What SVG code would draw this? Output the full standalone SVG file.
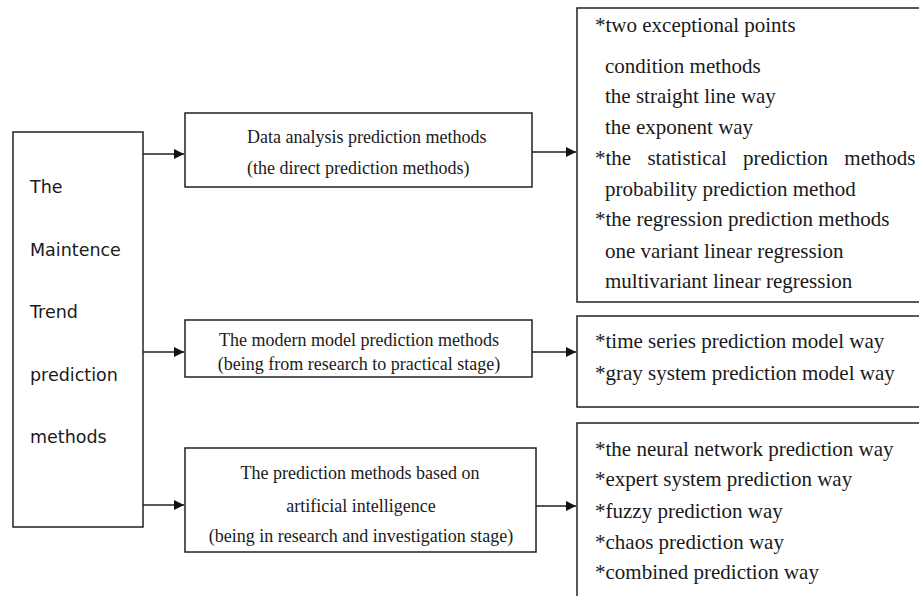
<svg xmlns="http://www.w3.org/2000/svg" width="919" height="596" viewBox="0 0 919 596">
  <style>
    .box { fill: #ffffff; stroke: #222222; stroke-width: 1.5; }
    .link { fill: none; stroke: #222222; stroke-width: 1.5; }
    .sans { font-family: "DejaVu Sans", Verdana, sans-serif; font-size: 17.5px; fill: #1a1a1a; }
    .serif { font-family: "Liberation Serif", "Times New Roman", serif; font-size: 18px; fill: #1a1a1a; }
    .list { font-family: "Liberation Serif", "Times New Roman", serif; font-size: 21px; fill: #1a1a1a; }
  </style>
  <defs>
    <marker id="arrow" viewBox="0 0 10 10" refX="10" refY="5" markerWidth="10" markerHeight="10" markerUnits="userSpaceOnUse" orient="auto">
      <path d="M0,0 L10,5 L0,10 z" fill="#111111"/>
    </marker>
  </defs>
  <rect width="919" height="596" fill="#ffffff"/>

  <!-- root node -->
  <g id="root">
    <rect class="box" x="13" y="132" width="130" height="395"/>
    <text class="sans" x="30" y="193">The</text>
    <text class="sans" x="30" y="256">Maintence</text>
    <text class="sans" x="30" y="318">Trend</text>
    <text class="sans" x="30" y="381">prediction</text>
    <text class="sans" x="30" y="443">methods</text>
  </g>

  <!-- category nodes -->
  <g id="data-analysis">
    <rect class="box" x="185" y="113" width="347" height="74"/>
    <text class="serif" x="247" y="143">Data analysis prediction methods</text>
    <text class="serif" x="247" y="174">(the direct prediction methods)</text>
  </g>
  <g id="modern-model">
    <rect class="box" x="185" y="320" width="347" height="57"/>
    <text class="serif" x="359" y="346" text-anchor="middle">The modern model prediction methods</text>
    <text class="serif" x="359" y="370" text-anchor="middle">(being from research to practical stage)</text>
  </g>
  <g id="artificial-intelligence">
    <rect class="box" x="185" y="448" width="351" height="104"/>
    <text class="serif" x="360" y="479" text-anchor="middle">The prediction methods based on</text>
    <text class="serif" x="361" y="512" text-anchor="middle">artificial intelligence</text>
    <text class="serif" x="361" y="542" text-anchor="middle">(being in research and investigation stage)</text>
  </g>

  <!-- detail lists -->
  <g id="data-analysis-list">
    <rect class="box" x="577" y="8" width="350" height="294"/>
    <text class="list" x="595" y="32">*two exceptional points</text>
    <text class="list" x="605" y="73">condition methods</text>
    <text class="list" x="605" y="103">the straight line way</text>
    <text class="list" x="605" y="134">the exponent way</text>
    <text class="list" x="595" y="165" word-spacing="11">*the statistical prediction methods</text>
    <text class="list" x="605" y="196">probability prediction method</text>
    <text class="list" x="595" y="226">*the regression prediction methods</text>
    <text class="list" x="605" y="258">one variant linear regression</text>
    <text class="list" x="605" y="288">multivariant linear regression</text>
  </g>
  <g id="modern-model-list">
    <rect class="box" x="577" y="316" width="350" height="91"/>
    <text class="list" x="595" y="348">*time series prediction model way</text>
    <text class="list" x="595" y="380">*gray system prediction model way</text>
  </g>
  <g id="artificial-intelligence-list">
    <rect class="box" x="577" y="423" width="350" height="180"/>
    <text class="list" x="595" y="456">*the neural network prediction way</text>
    <text class="list" x="595" y="486">*expert system prediction way</text>
    <text class="list" x="595" y="518">*fuzzy prediction way</text>
    <text class="list" x="595" y="549">*chaos prediction way</text>
    <text class="list" x="595" y="579">*combined prediction way</text>
  </g>

  <!-- connectors -->
  <g id="connectors">
    <line class="link" x1="143" y1="154" x2="184" y2="154" marker-end="url(#arrow)"/>
    <line class="link" x1="143" y1="352" x2="184" y2="352" marker-end="url(#arrow)"/>
    <line class="link" x1="143" y1="505" x2="184" y2="505" marker-end="url(#arrow)"/>
    <line class="link" x1="532" y1="152" x2="576" y2="152" marker-end="url(#arrow)"/>
    <line class="link" x1="532" y1="352" x2="576" y2="352" marker-end="url(#arrow)"/>
    <line class="link" x1="536" y1="506" x2="576" y2="506" marker-end="url(#arrow)"/>
  </g>
</svg>
